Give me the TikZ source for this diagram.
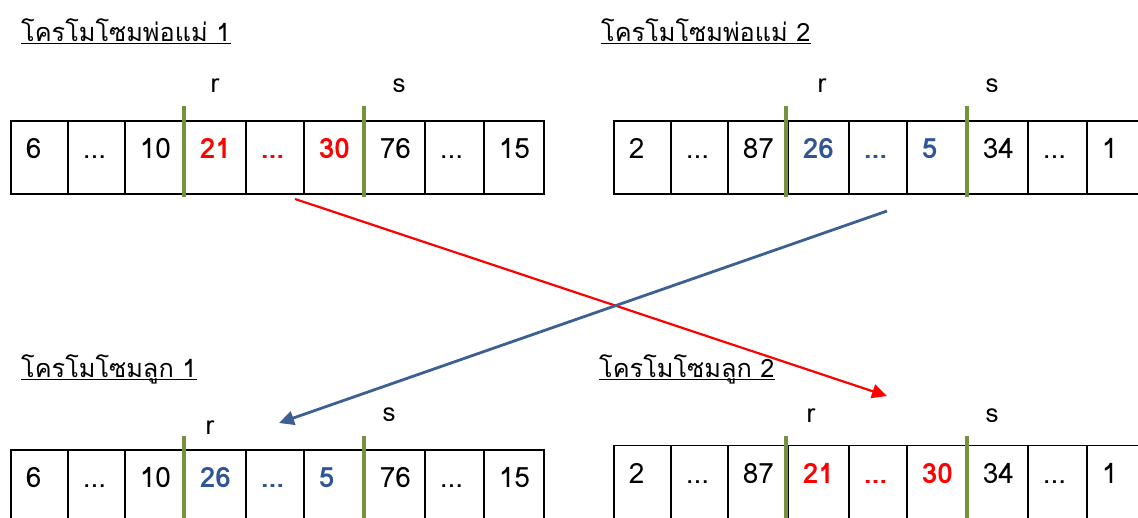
\documentclass[tikz,border=0pt]{standalone}
\usepackage{fontspec}
\setmainfont[Script=Thai]{Loma}
\usetikzlibrary{arrows.meta}
\definecolor{myred}{RGB}{255,0,0}
\definecolor{myblue}{RGB}{47,85,151}
\definecolor{arrblue}{RGB}{59,96,145}
\definecolor{mygreen}{RGB}{118,146,60}
\newcommand\RR[1]{\textcolor{myred}{\bfseries #1}}
\newcommand\BB[1]{\textcolor{myblue}{\bfseries #1}}
\newcommand\ddd{...}
\begin{document}
\begin{tikzpicture}[x=1pt,y=-1pt,
  cell/.style={draw=black, line width=1.8pt, minimum height=73pt, inner xsep=15pt, inner ysep=0pt,
    anchor=north west, align=left, font=\fontsize{28}{30}\selectfont, text height=20pt, text depth=17pt},
  lbl/.style={inner sep=0pt, font=\fontsize{26}{28}\selectfont},
  title/.style={inner sep=0pt, anchor=base west, font=\fontsize{25.3}{28}\selectfont},
  uline/.style={line width=1.4pt},
  cut/.style={draw=mygreen, line width=4pt},
  redarrow/.style={draw=myred, line width=2.2pt, -{Triangle[length=15pt,width=14pt]}},
  bluearrow/.style={draw=arrblue, line width=2.8pt, -{Triangle[length=15pt,width=14pt]}}]
\clip (0,0) rectangle (1138,517);
\fill[white] (0,0) rectangle (1138,517);

% titles
\node[title] (t1) at (21,41) {โครโมโซมพ่อแม่ 1};
\node[title] (t2) at (601,41) {โครโมโซมพ่อแม่ 2};
\node[title] (t3) at (21,377) {โครโมโซมลูก 1};
\node[title] (t4) at (599,377) {โครโมโซมลูก 2};
\foreach \n in {t1,t2,t3,t4}
  \draw[uline] ([yshift=-2.5pt]\n.base west) -- ([yshift=-2.5pt]\n.base east);

% parent 1
\foreach \i/\x/\w/\tw/\t in {1/10/57/27/6, 2/67/57/27/\ddd, 3/124/60/30/10, 4/184/61/31/\RR{21},
    5/245/58/28/\RR{\ddd}, 6/303/61/31/\RR{30}, 7/364/60/30/76, 8/424/59/29/\ddd, 9/483/60/30/15}
  \node[cell, minimum width=\w, text width=\tw] (pa\i) at (\x,120) {\t};
% parent 2
\foreach \i/\x/\w/\tw/\t in {1/613/57/27/2, 2/670/57/27/\ddd, 3/727/60/30/87, 4/787/61/31/\BB{26},
    5/848/58/28/\BB{\ddd}, 6/906/61/31/\BB{5}, 7/967/60/30/34, 8/1027/59/29/\ddd, 9/1086/60/30/1}
  \node[cell, minimum width=\w, text width=\tw] (pb\i) at (\x,120) {\t};
% child 1
\foreach \i/\x/\w/\tw/\t in {1/10/57/27/6, 2/67/57/27/\ddd, 3/124/60/30/10, 4/184/61/31/\BB{26},
    5/245/58/28/\BB{\ddd}, 6/303/61/31/\BB{5}, 7/364/60/30/76, 8/424/59/29/\ddd, 9/483/60/30/15}
  \node[cell, minimum width=\w, text width=\tw] (ca\i) at (\x,449) {\t};
% child 2
\foreach \i/\x/\w/\tw/\t in {1/613/57/27/2, 2/670/57/27/\ddd, 3/727/60/30/87, 4/787/61/31/\RR{21},
    5/848/58/28/\RR{\ddd}, 6/906/61/31/\RR{30}, 7/967/60/30/34, 8/1027/59/29/\ddd, 9/1086/60/30/1}
  \node[cell, minimum width=\w, text width=\tw] (cb\i) at (\x,444.5) {\t};

% cut lines
\draw[cut] (184,106) -- (184,197);
\draw[cut] (364,106) -- (364,197);
\draw[cut] (786,106) -- (786,197);
\draw[cut] (966.5,106) -- (966.5,197);
\draw[cut] (184,436) -- (184,530);
\draw[cut] (364,436) -- (364,530);
\draw[cut] (786,436) -- (786,530);
\draw[cut] (966.5,436) -- (966.5,530);

% r / s labels
\node[lbl] (par) at (215,86) {r};
\node[lbl] (pas) at (399,86) {s};
\node[lbl] (pbr) at (822,86) {r};
\node[lbl] (pbs) at (992,86) {s};
\node[lbl] (car) at (210,428) {r};
\node[lbl] (cas) at (389,415) {s};
\node[lbl] (cbr) at (811,416) {r};
\node[lbl] (cbs) at (992,416) {s};

% arrows
\coordinate (rs) at (295,199);
\coordinate (re) at (887,396);
\coordinate (bs) at (887,211);
\coordinate (be) at (279,423);
\draw[redarrow] (rs) -- (re);
\draw[bluearrow] (bs) -- (be);
\end{tikzpicture}
\end{document}
